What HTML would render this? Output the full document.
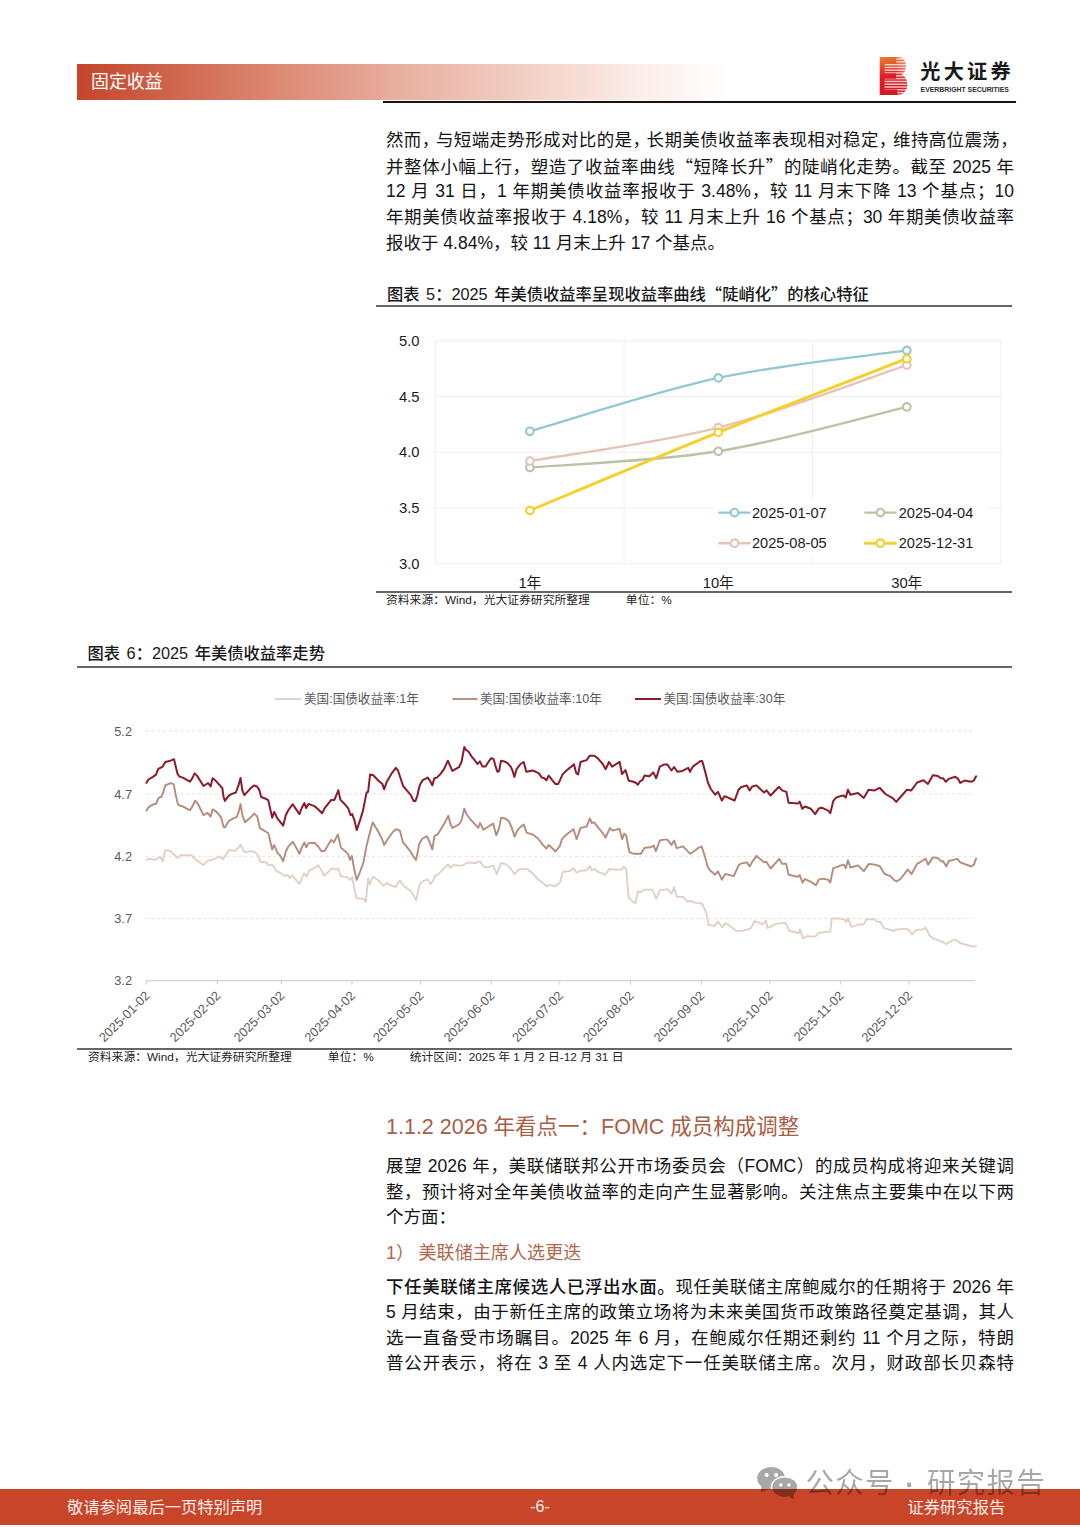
<!DOCTYPE html>
<html lang="zh-CN"><head><meta charset="utf-8"><title>固定收益</title>
<style>
html,body{margin:0;padding:0;background:#fff;}
body{width:1080px;height:1527px;position:relative;overflow:hidden;font-family:"Liberation Sans","Noto Sans CJK SC",sans-serif;color:#111;}
.a{position:absolute;white-space:nowrap;}
.j{text-align:justify;text-align-last:justify;}
.bd{font-size:17.5px;line-height:26px;height:26px;color:#151515;}
.h{letter-spacing:-3.7px;}
b{font-weight:500;}
.ct{font-size:16.3px;font-weight:500;word-spacing:2px;line-height:22px;height:22px;color:#1a1a1a;}
.q{font-family:"Noto Sans CJK SC",sans-serif;}
.src{font-size:11.8px;line-height:16px;height:16px;color:#222;}
.rule{position:absolute;background:#666;height:1.6px;}
svg{position:absolute;left:0;top:0;overflow:visible;}
svg text{font-family:"Liberation Sans","Noto Sans CJK SC",sans-serif;}

</style></head><body>
<div class="a" style="left:77px;top:63.5px;width:650px;height:36.5px;background:linear-gradient(90deg,#c4452b 0%,#db8772 30%,#e8b0a1 50%,#f3d3c9 71%,#fbeeea 87%,#ffffff 100%);"></div>
<div class="a" style="left:91px;top:68.6px;font-size:17.9px;line-height:26px;color:#fff;">固定收益</div>
<div class="rule" style="left:383px;top:101.3px;width:633px;height:1.4px;background:#1c1010;"></div>
<div class="a" style="left:920.3px;top:56.6px;font-size:20.2px;line-height:30px;font-weight:700;color:#1a1a1a;letter-spacing:3.2px;">光大证券</div>
<div class="a bd j" style="left:386px;top:126.8px;width:628px;">然而<span class="h">，</span>与短端走势形成对比的是<span class="h">，</span>长期美债收益率表现相对稳定<span class="h">，</span>维持高位震荡<span class="h">，</span></div>
<div class="a bd j" style="left:386px;top:152.6px;width:628px;">并整体小幅上行，塑造了收益率曲线<span class="q">“</span>短降长升<span class="q">”</span>的陡峭化走势。截至 2025 年</div>
<div class="a bd j" style="left:386px;top:178.4px;width:628px;">12 月 31 日，1 年期美债收益率报收于 3.48%，较 11 月末下降 13 个基点；10</div>
<div class="a bd j" style="left:386px;top:204.2px;width:628px;">年期美债收益率报收于 4.18%，较 11 月末上升 16 个基点；30 年期美债收益率</div>
<div class="a bd" style="left:386px;top:230.0px;width:628px;">报收于 4.84%，较 11 月末上升 17 个基点。</div>
<div class="a ct" style="left:387px;top:282px;">图表 5：2025 年美债收益率呈现收益率曲线<span class="q">“</span>陡峭化<span class="q">”</span>的核心特征</div>
<div class="rule" style="left:376px;top:305px;width:635.5px;"></div>
<div class="rule" style="left:376px;top:591.4px;width:635.5px;"></div>
<div class="a src" style="left:386px;top:592px;">资料来源：Wind，光大证券研究所整理<span style="display:inline-block;width:36px;"></span>单位：%</div>
<div class="a ct" style="left:87.5px;top:642px;">图表 6：2025 年美债收益率走势</div>
<div class="rule" style="left:76.5px;top:666px;width:935px;"></div>
<div class="rule" style="left:76.5px;top:1048.4px;width:935px;"></div>
<div class="a src" style="left:88px;top:1049px;">资料来源：Wind，光大证券研究所整理<span style="display:inline-block;width:36px;"></span>单位：%<span style="display:inline-block;width:36px;"></span>统计区间：2025 年 1 月 2 日-12 月 31 日</div>
<div class="a" style="left:386px;top:1112.2px;font-size:21.5px;line-height:30px;color:#a95e45;">1.1.2 2026 年看点一：FOMC 成员构成调整</div>
<div class="a bd j" style="left:386px;top:1153.3px;width:628px;">展望 2026 年，美联储联邦公开市场委员会（FOMC）的成员构成将迎来关键调</div>
<div class="a bd j" style="left:386px;top:1178.8px;width:628px;">整，预计将对全年美债收益率的走向产生显著影响。关注焦点主要集中在以下两</div>
<div class="a bd" style="left:386px;top:1204.2px;width:628px;">个方面：</div>
<div class="a" style="left:386px;top:1239.6px;font-size:18.1px;line-height:26px;color:#b0674d;">1）<span style="display:inline-block;width:4.3px;"></span>美联储主席人选更迭</div>
<div class="a bd j" style="left:386px;top:1273.5px;width:628px;"><b>下任美联储主席候选人已浮出水面。</b>现任美联储主席鲍威尔的任期将于 2026 年</div>
<div class="a bd j" style="left:386px;top:1299.0px;width:628px;">5 月结束，由于新任主席的政策立场将为未来美国货币政策路径奠定基调，其人</div>
<div class="a bd j" style="left:386px;top:1324.5px;width:628px;">选一直备受市场瞩目。2025 年 6 月，在鲍威尔任期还剩约 11 个月之际，特朗</div>
<div class="a bd j" style="left:386px;top:1350.0px;width:628px;">普公开表示，将在 3 至 4 人内选定下一任美联储主席。次月，财政部长贝森特</div>
<div class="a" style="left:0;top:1488.5px;width:1080px;height:36px;background:#c9452a;"></div>
<div class="a" style="left:67px;top:1495px;font-size:16.3px;line-height:24px;color:#fbeee9;">敬请参阅最后一页特别声明</div>
<div class="a" style="left:500px;width:80px;text-align:center;top:1495px;font-size:16px;line-height:24px;color:#fbeee9;">-6-</div>
<div class="a" style="left:907.5px;top:1495px;font-size:16.3px;line-height:24px;color:#fbeee9;">证券研究报告</div>
<svg width="1080" height="1527" viewBox="0 0 1080 1527">
<g id="chart5">
<line x1="435.7" y1="340.7" x2="1001.0" y2="340.7" stroke="#efefef" stroke-width="1"/>
<line x1="435.7" y1="396.4" x2="1001.0" y2="396.4" stroke="#efefef" stroke-width="1"/>
<line x1="435.7" y1="452.2" x2="1001.0" y2="452.2" stroke="#efefef" stroke-width="1"/>
<line x1="435.7" y1="508.0" x2="1001.0" y2="508.0" stroke="#efefef" stroke-width="1"/>
<line x1="435.7" y1="563.7" x2="1001.0" y2="563.7" stroke="#efefef" stroke-width="1"/>
<line x1="435.7" y1="340.7" x2="435.7" y2="563.7" stroke="#efefef" stroke-width="1"/>
<line x1="624.1" y1="340.7" x2="624.1" y2="563.7" stroke="#efefef" stroke-width="1"/>
<line x1="812.6" y1="340.7" x2="812.6" y2="563.7" stroke="#efefef" stroke-width="1"/>
<line x1="1001.0" y1="340.7" x2="1001.0" y2="563.7" stroke="#efefef" stroke-width="1"/>
<text x="419.5" y="345.9" font-size="14.8" fill="#1c1c1c" text-anchor="end">5.0</text>
<text x="419.5" y="401.6" font-size="14.8" fill="#1c1c1c" text-anchor="end">4.5</text>
<text x="419.5" y="457.4" font-size="14.8" fill="#1c1c1c" text-anchor="end">4.0</text>
<text x="419.5" y="513.2" font-size="14.8" fill="#1c1c1c" text-anchor="end">3.5</text>
<text x="419.5" y="568.9" font-size="14.8" fill="#1c1c1c" text-anchor="end">3.0</text>
<text x="529.9" y="587.5" font-size="14.8" fill="#1c1c1c" text-anchor="middle">1年</text>
<text x="718.3" y="587.5" font-size="14.8" fill="#1c1c1c" text-anchor="middle">10年</text>
<text x="906.8" y="587.5" font-size="14.8" fill="#1c1c1c" text-anchor="middle">30年</text>
<path d="M529.9,467.5 C561.3,464.8 655.5,461.4 718.3,451.3 C781.2,441.2 875.4,414.3 906.8,406.9" fill="none" stroke="#b9c3a6" stroke-width="2.4" stroke-linecap="round"/>
<circle cx="529.9" cy="467.5" r="3.8" fill="#fff" stroke="#b9c3a6" stroke-width="2.1"/>
<circle cx="718.3" cy="451.3" r="3.8" fill="#fff" stroke="#b9c3a6" stroke-width="2.1"/>
<circle cx="906.8" cy="406.9" r="3.8" fill="#fff" stroke="#b9c3a6" stroke-width="2.1"/>
<path d="M529.9,461.0 C561.3,455.5 655.5,443.7 718.3,427.7 C781.2,411.7 875.4,375.5 906.8,365.1" fill="none" stroke="#e6c3ba" stroke-width="2.4" stroke-linecap="round"/>
<circle cx="529.9" cy="461.0" r="3.8" fill="#fff" stroke="#e6c3ba" stroke-width="2.1"/>
<circle cx="718.3" cy="427.7" r="3.8" fill="#fff" stroke="#e6c3ba" stroke-width="2.1"/>
<circle cx="906.8" cy="365.1" r="3.8" fill="#fff" stroke="#e6c3ba" stroke-width="2.1"/>
<path d="M529.9,431.3 C561.3,422.4 655.5,391.4 718.3,377.9 C781.2,364.4 875.4,355.0 906.8,350.4" fill="none" stroke="#93c7d4" stroke-width="2.4" stroke-linecap="round"/>
<circle cx="529.9" cy="431.3" r="3.8" fill="#fff" stroke="#93c7d4" stroke-width="2.1"/>
<circle cx="718.3" cy="377.9" r="3.8" fill="#fff" stroke="#93c7d4" stroke-width="2.1"/>
<circle cx="906.8" cy="350.4" r="3.8" fill="#fff" stroke="#93c7d4" stroke-width="2.1"/>
<path d="M529.9,510.5 C561.3,497.5 655.5,457.7 718.3,432.4 C781.2,407.0 875.4,370.9 906.8,358.7" fill="none" stroke="#f3d02a" stroke-width="2.9" stroke-linecap="round"/>
<circle cx="529.9" cy="510.5" r="3.8" fill="#fff" stroke="#f3d02a" stroke-width="2.1"/>
<circle cx="718.3" cy="432.4" r="3.8" fill="#fff" stroke="#f3d02a" stroke-width="2.1"/>
<circle cx="906.8" cy="358.7" r="3.8" fill="#fff" stroke="#f3d02a" stroke-width="2.1"/>
<rect x="714" y="499" width="272" height="58" fill="#fff"/>
<line x1="719.5" y1="512.6" x2="749.5" y2="512.6" stroke="#93c7d4" stroke-width="2.4" stroke-linecap="round"/>
<circle cx="734.5" cy="512.6" r="3.8" fill="#fff" stroke="#93c7d4" stroke-width="2.1"/>
<text x="752.0" y="517.7" font-size="14.6" fill="#1c1c1c">2025-01-07</text>
<line x1="865.4" y1="512.6" x2="895.4" y2="512.6" stroke="#b9c3a6" stroke-width="2.4" stroke-linecap="round"/>
<circle cx="880.4" cy="512.6" r="3.8" fill="#fff" stroke="#b9c3a6" stroke-width="2.1"/>
<text x="898.7" y="517.7" font-size="14.6" fill="#1c1c1c">2025-04-04</text>
<line x1="719.5" y1="543.2" x2="749.5" y2="543.2" stroke="#e6c3ba" stroke-width="2.4" stroke-linecap="round"/>
<circle cx="734.5" cy="543.2" r="3.8" fill="#fff" stroke="#e6c3ba" stroke-width="2.1"/>
<text x="752.0" y="548.3" font-size="14.6" fill="#1c1c1c">2025-08-05</text>
<line x1="865.4" y1="543.2" x2="895.4" y2="543.2" stroke="#f3d02a" stroke-width="2.9" stroke-linecap="round"/>
<circle cx="880.4" cy="543.2" r="3.8" fill="#fff" stroke="#f3d02a" stroke-width="2.1"/>
<text x="898.7" y="548.3" font-size="14.6" fill="#1c1c1c">2025-12-31</text>
</g>
<g id="chart6">
<line x1="145.6" y1="731.0" x2="975.2" y2="731.0" stroke="#e0e0e0" stroke-width="0.9" stroke-dasharray="3.2 2.6"/>
<line x1="145.6" y1="794.0" x2="975.2" y2="794.0" stroke="#e0e0e0" stroke-width="0.9" stroke-dasharray="3.2 2.6"/>
<line x1="145.6" y1="856.3" x2="975.2" y2="856.3" stroke="#e0e0e0" stroke-width="0.9" stroke-dasharray="3.2 2.6"/>
<line x1="145.6" y1="918.6" x2="975.2" y2="918.6" stroke="#e0e0e0" stroke-width="0.9" stroke-dasharray="3.2 2.6"/>
<line x1="145.6" y1="980.6" x2="975.2" y2="980.6" stroke="#d4d4d4" stroke-width="1.2"/>
<text x="132" y="735.5" font-size="12.8" fill="#5a5a5a" text-anchor="end">5.2</text>
<text x="132" y="798.5" font-size="12.8" fill="#5a5a5a" text-anchor="end">4.7</text>
<text x="132" y="860.8" font-size="12.8" fill="#5a5a5a" text-anchor="end">4.2</text>
<text x="132" y="923.1" font-size="12.8" fill="#5a5a5a" text-anchor="end">3.7</text>
<text x="132" y="985.1" font-size="12.8" fill="#5a5a5a" text-anchor="end">3.2</text>
<line x1="146.6" y1="980.6" x2="146.6" y2="984.6" stroke="#d4d4d4" stroke-width="1.1"/>
<text transform="translate(150.6,996.5) rotate(-45)" font-size="12.8" fill="#5a5a5a" text-anchor="end">2025-01-02</text>
<line x1="217.4" y1="980.6" x2="217.4" y2="984.6" stroke="#d4d4d4" stroke-width="1.1"/>
<text transform="translate(221.4,996.5) rotate(-45)" font-size="12.8" fill="#5a5a5a" text-anchor="end">2025-02-02</text>
<line x1="281.3" y1="980.6" x2="281.3" y2="984.6" stroke="#d4d4d4" stroke-width="1.1"/>
<text transform="translate(285.3,996.5) rotate(-45)" font-size="12.8" fill="#5a5a5a" text-anchor="end">2025-03-02</text>
<line x1="352.0" y1="980.6" x2="352.0" y2="984.6" stroke="#d4d4d4" stroke-width="1.1"/>
<text transform="translate(356.0,996.5) rotate(-45)" font-size="12.8" fill="#5a5a5a" text-anchor="end">2025-04-02</text>
<line x1="420.5" y1="980.6" x2="420.5" y2="984.6" stroke="#d4d4d4" stroke-width="1.1"/>
<text transform="translate(424.5,996.5) rotate(-45)" font-size="12.8" fill="#5a5a5a" text-anchor="end">2025-05-02</text>
<line x1="491.3" y1="980.6" x2="491.3" y2="984.6" stroke="#d4d4d4" stroke-width="1.1"/>
<text transform="translate(495.3,996.5) rotate(-45)" font-size="12.8" fill="#5a5a5a" text-anchor="end">2025-06-02</text>
<line x1="559.8" y1="980.6" x2="559.8" y2="984.6" stroke="#d4d4d4" stroke-width="1.1"/>
<text transform="translate(563.8,996.5) rotate(-45)" font-size="12.8" fill="#5a5a5a" text-anchor="end">2025-07-02</text>
<line x1="630.5" y1="980.6" x2="630.5" y2="984.6" stroke="#d4d4d4" stroke-width="1.1"/>
<text transform="translate(634.5,996.5) rotate(-45)" font-size="12.8" fill="#5a5a5a" text-anchor="end">2025-08-02</text>
<line x1="701.3" y1="980.6" x2="701.3" y2="984.6" stroke="#d4d4d4" stroke-width="1.1"/>
<text transform="translate(705.3,996.5) rotate(-45)" font-size="12.8" fill="#5a5a5a" text-anchor="end">2025-09-02</text>
<line x1="769.8" y1="980.6" x2="769.8" y2="984.6" stroke="#d4d4d4" stroke-width="1.1"/>
<text transform="translate(773.8,996.5) rotate(-45)" font-size="12.8" fill="#5a5a5a" text-anchor="end">2025-10-02</text>
<line x1="840.5" y1="980.6" x2="840.5" y2="984.6" stroke="#d4d4d4" stroke-width="1.1"/>
<text transform="translate(844.5,996.5) rotate(-45)" font-size="12.8" fill="#5a5a5a" text-anchor="end">2025-11-02</text>
<line x1="909.0" y1="980.6" x2="909.0" y2="984.6" stroke="#d4d4d4" stroke-width="1.1"/>
<text transform="translate(913.0,996.5) rotate(-45)" font-size="12.8" fill="#5a5a5a" text-anchor="end">2025-12-02</text>
<path d="M146.5,859.9 L148.4,858.6 L153.0,859.3 L155.6,859.9 L158.1,858.0 L160.7,857.3 L162.7,861.2 L165.3,850.2 L169.8,850.8 L173.7,854.1 L177.6,858.2 L180.2,855.4 L191.2,855.1 L197.0,860.6 L203.5,865.1 L207.4,861.2 L216.5,858.0 L219.7,856.7 L223.0,859.3 L228.8,850.2 L235.9,850.8 L240.5,844.7 L244.4,852.1 L253.4,851.2 L257.3,854.1 L260.6,861.9 L266.4,862.5 L268.3,865.1 L272.9,865.1 L276.1,870.9 L280.0,872.9 L285.2,876.1 L287.8,874.8 L289.7,878.1 L292.3,875.5 L299.4,883.9 L304.0,873.5 L306.6,876.8 L309.2,870.3 L315.0,867.7 L318.0,865.1 L320.2,868.3 L324.1,875.5 L327.3,872.9 L331.9,868.3 L335.7,869.6 L338.3,868.7 L340.9,876.1 L347.4,877.4 L350.6,880.0 L352.3,876.8 L353.9,886.5 L356.5,898.1 L363.6,898.8 L365.8,902.0 L366.6,894.3 L368.1,878.1 L369.8,884.5 L372.7,876.8 L378.5,880.6 L383.7,885.8 L386.3,883.2 L395.4,887.1 L399.9,880.6 L404.4,886.5 L410.9,891.0 L416.1,900.1 L418.1,891.7 L420.0,883.9 L422.6,881.3 L427.8,879.4 L430.4,883.9 L433.0,881.3 L434.9,876.1 L437.5,874.8 L444.0,868.3 L447.9,864.7 L450.5,867.7 L453.1,865.1 L461.5,865.7 L468.0,862.5 L475.7,863.1 L479.9,861.2 L483.5,866.4 L487.4,867.7 L493.2,865.5 L496.7,874.2 L501.0,863.1 L505.6,864.2 L508.8,866.4 L511.4,869.6 L514.6,874.2 L518.5,869.6 L526.9,868.7 L532.8,873.5 L538.0,879.4 L542.5,882.6 L546.8,886.5 L549.6,884.9 L555.5,886.2 L558.1,883.9 L560.0,882.6 L562.6,872.2 L569.7,870.9 L573.6,868.3 L576.2,872.5 L580.7,870.9 L586.6,870.3 L589.8,866.0 L591.8,870.3 L594.0,869.0 L597.6,871.6 L605.4,874.8 L609.3,869.0 L614.4,869.6 L621.6,869.6 L623.8,866.8 L626.1,869.0 L628.7,897.5 L632.6,901.4 L635.6,903.3 L637.8,891.4 L640.4,892.3 L644.3,889.7 L652.7,889.7 L656.2,898.8 L659.8,890.4 L667.3,889.1 L671.7,893.6 L674.1,887.1 L676.7,896.9 L683.1,896.9 L687.7,902.0 L689.6,900.7 L694.8,902.7 L698.7,903.1 L700.0,903.5 L702.2,903.5 L706.0,912.1 L708.6,925.1 L715.1,925.8 L718.0,921.5 L722.3,927.2 L725.2,923.2 L728.8,925.1 L736.0,930.8 L741.8,930.8 L750.4,928.7 L754.7,921.2 L762.7,924.1 L766.0,920.8 L767.7,928.0 L774.9,924.4 L779.9,923.2 L785.7,923.2 L789.3,930.8 L798.7,933.0 L800.1,929.4 L803.0,938.5 L806.6,936.2 L815.2,936.6 L818.8,932.7 L830.3,931.6 L831.8,918.6 L838.3,918.3 L840.0,918.6 L844.3,919.3 L845.8,922.2 L847.9,918.3 L851.5,927.0 L858.7,924.4 L863.8,924.4 L866.6,919.3 L874.6,919.3 L877.4,921.8 L880.3,921.8 L883.9,928.0 L893.3,930.8 L897.6,929.4 L906.3,928.7 L909.1,930.1 L912.0,934.4 L916.3,929.8 L922.8,929.4 L925.7,927.5 L929.3,935.2 L932.2,938.0 L940.8,941.4 L943.7,942.4 L946.6,944.2 L949.5,941.6 L955.2,939.5 L961.0,943.4 L973.2,946.7 L976.1,946.0" fill="none" stroke="#dfcec5" stroke-width="1.8" stroke-linejoin="round" stroke-linecap="round"/>
<path d="M146.5,810.6 L148.4,807.4 L152.3,804.8 L156.2,803.5 L158.8,797.7 L161.4,797.0 L163.3,791.9 L165.3,785.4 L170.5,783.2 L173.7,784.1 L175.6,794.4 L177.9,804.2 L179.5,805.5 L182.8,806.4 L189.9,810.3 L191.9,807.4 L195.1,800.7 L197.7,803.5 L203.5,815.2 L207.4,812.9 L210.6,816.5 L212.6,809.4 L216.5,811.9 L221.0,817.1 L223.6,826.9 L224.9,827.5 L228.8,821.0 L233.3,818.4 L236.6,817.1 L238.5,812.6 L240.5,804.2 L242.4,815.2 L245.0,822.3 L250.2,817.8 L254.1,813.6 L257.3,816.5 L259.9,828.1 L266.4,832.0 L268.3,833.3 L272.2,849.5 L274.2,845.0 L277.4,852.8 L280.0,855.4 L283.2,861.2 L285.8,851.5 L288.4,846.3 L292.7,841.8 L296.2,847.6 L299.4,853.8 L302.0,846.9 L304.4,842.4 L306.2,847.3 L308.5,843.1 L314.4,842.8 L317.6,845.6 L321.5,851.2 L324.7,850.8 L331.2,839.8 L333.8,842.4 L337.9,834.4 L340.9,847.6 L345.5,851.5 L348.1,854.1 L350.0,859.9 L351.9,856.0 L353.9,867.7 L356.7,880.0 L360.4,870.9 L363.6,861.9 L366.2,847.6 L369.4,834.6 L372.7,822.3 L378.5,832.0 L382.4,839.8 L384.1,845.0 L387.6,839.2 L392.8,832.0 L396.0,829.2 L399.9,830.7 L403.1,842.4 L406.4,846.3 L410.9,852.1 L413.5,856.7 L415.9,859.9 L417.4,854.1 L418.7,846.3 L420.0,842.4 L422.6,838.5 L427.1,836.2 L429.7,842.4 L432.3,849.5 L434.5,835.9 L437.5,834.6 L440.7,829.4 L444.6,823.0 L448.3,815.8 L450.5,824.3 L452.4,827.9 L458.9,824.5 L461.5,820.4 L464.3,808.7 L466.7,814.5 L469.9,818.8 L474.4,823.6 L478.3,827.9 L480.0,823.0 L483.5,829.7 L488.7,826.2 L493.2,823.6 L496.2,835.3 L499.1,828.1 L501.0,817.8 L504.9,818.4 L508.8,821.0 L511.4,826.9 L514.6,836.6 L517.2,830.7 L520.9,826.6 L523.7,824.5 L526.6,832.7 L532.8,834.6 L538.0,838.5 L542.5,844.4 L546.4,848.6 L548.7,845.0 L552.2,848.2 L555.5,851.5 L558.1,848.2 L560.0,845.6 L561.9,839.2 L566.5,834.6 L573.6,829.2 L576.6,839.2 L580.5,827.9 L586.6,826.6 L589.8,818.4 L591.8,823.0 L594.0,822.3 L597.6,826.9 L602.8,833.1 L605.6,837.5 L609.9,828.1 L612.5,830.7 L619.4,828.8 L622.2,839.2 L624.2,833.6 L626.1,835.3 L629.4,852.1 L633.9,853.8 L641.0,853.8 L644.3,847.9 L650.7,847.3 L653.6,845.6 L655.9,851.2 L659.8,840.5 L663.7,839.6 L667.3,839.6 L671.5,845.0 L674.1,840.5 L676.7,848.2 L683.1,846.3 L690.3,853.8 L695.5,850.2 L698.7,847.6 L700.0,847.3 L701.7,846.6 L705.0,856.7 L707.9,867.5 L710.8,871.1 L715.1,874.7 L718.0,871.4 L721.9,879.7 L725.2,874.0 L733.8,876.1 L738.6,865.3 L741.0,863.6 L746.8,862.4 L749.7,866.5 L751.9,862.4 L756.5,855.9 L764.1,862.4 L766.3,861.7 L770.6,868.5 L779.2,858.8 L782.1,863.9 L786.1,863.6 L788.6,874.7 L797.9,876.8 L799.7,875.1 L802.6,882.6 L804.9,879.0 L810.9,881.9 L815.9,885.2 L818.8,879.7 L822.4,878.6 L828.2,879.7 L830.3,882.6 L833.2,868.2 L838.3,866.7 L840.0,865.6 L844.0,864.6 L845.8,868.2 L847.9,860.3 L850.4,867.5 L858.0,865.3 L863.8,871.1 L868.8,863.9 L874.6,864.6 L879.6,866.0 L884.7,874.0 L890.4,876.1 L893.6,879.7 L896.5,881.4 L900.5,879.0 L907.7,869.6 L911.6,874.0 L917.1,863.9 L925.7,858.8 L928.1,864.6 L932.9,857.4 L937.9,858.1 L941.5,861.7 L943.0,861.0 L946.3,866.5 L948.7,861.0 L957.4,858.8 L960.3,862.4 L971.1,866.5 L974.0,864.6 L976.1,858.4" fill="none" stroke="#b58b7c" stroke-width="1.9" stroke-linejoin="round" stroke-linecap="round"/>
<path d="M146.5,782.8 L148.4,779.5 L153.0,776.9 L156.2,774.4 L158.1,769.2 L160.7,767.6 L162.7,766.6 L165.3,762.0 L170.5,760.7 L174.0,759.2 L175.6,765.9 L177.6,774.0 L179.5,776.6 L182.8,777.6 L189.9,781.7 L191.9,778.9 L194.7,773.4 L197.0,775.6 L203.5,786.0 L208.1,783.0 L210.6,786.4 L212.6,778.2 L215.8,780.8 L221.0,786.7 L222.3,788.0 L223.6,797.0 L224.9,800.9 L228.1,796.4 L230.7,794.4 L235.9,792.5 L238.5,785.4 L240.5,777.9 L242.4,790.6 L244.4,795.1 L250.2,788.6 L254.1,785.4 L257.3,786.7 L259.3,789.9 L261.2,797.0 L266.4,799.0 L268.3,800.3 L272.2,817.8 L274.2,811.9 L277.4,818.4 L280.0,821.7 L283.2,825.6 L285.8,815.2 L288.4,810.0 L292.7,804.2 L296.2,809.4 L299.4,814.1 L302.0,807.4 L304.4,803.1 L306.2,808.1 L308.5,803.9 L314.4,806.1 L317.6,808.7 L322.1,813.2 L324.7,808.1 L331.2,799.9 L334.4,799.9 L338.3,790.3 L340.3,799.6 L344.8,804.2 L348.4,808.7 L350.6,815.2 L352.2,814.1 L354.5,820.4 L356.7,830.1 L360.4,819.1 L363.0,810.6 L364.9,800.9 L366.6,792.5 L368.1,791.9 L370.1,774.4 L373.3,775.3 L378.5,780.8 L382.4,784.1 L384.1,789.3 L386.9,781.5 L391.5,773.7 L395.8,767.9 L398.0,770.5 L401.2,780.2 L403.1,786.0 L406.4,789.9 L410.9,795.1 L413.5,800.9 L415.5,800.9 L417.4,795.7 L418.7,789.3 L420.0,784.7 L422.6,780.2 L427.8,777.6 L430.4,781.5 L432.3,785.4 L434.3,778.2 L436.9,777.6 L440.7,773.7 L444.0,769.2 L447.9,760.7 L450.5,766.6 L452.4,770.9 L458.9,767.2 L461.5,762.0 L464.3,747.1 L466.0,749.7 L468.6,751.7 L471.9,756.9 L475.1,760.7 L477.4,764.0 L479.9,761.4 L482.5,766.6 L485.5,766.6 L488.7,761.4 L491.3,758.1 L493.6,759.2 L495.8,767.2 L497.5,771.8 L499.1,771.1 L501.0,760.7 L504.3,761.4 L507.5,763.1 L510.7,766.6 L512.7,771.1 L514.4,776.9 L516.6,769.2 L520.5,764.0 L523.7,762.0 L526.3,771.8 L532.8,770.5 L538.6,773.1 L541.9,777.6 L544.4,778.2 L546.4,780.2 L548.7,775.6 L552.2,780.2 L555.5,784.1 L558.1,784.1 L560.0,780.2 L562.6,774.4 L566.5,770.5 L574.0,764.4 L576.2,773.1 L578.1,774.4 L580.5,762.0 L586.6,760.1 L589.6,755.8 L594.4,755.8 L597.6,758.1 L602.8,764.0 L605.6,769.2 L609.0,762.0 L612.1,766.6 L619.6,761.8 L622.0,774.0 L625.5,770.1 L628.7,780.8 L632.6,781.5 L635.8,782.8 L637.8,784.7 L640.1,781.2 L642.3,780.2 L644.5,775.6 L649.4,776.3 L653.3,772.4 L656.2,778.2 L659.8,766.6 L663.7,764.6 L667.3,764.4 L671.5,770.5 L674.1,767.0 L677.3,771.8 L682.5,770.9 L688.3,767.9 L690.0,771.8 L692.9,766.6 L698.1,762.7 L700.0,761.3 L702.2,760.9 L705.0,771.0 L707.9,782.5 L710.8,789.0 L715.1,794.7 L718.0,791.9 L721.9,800.5 L724.5,796.2 L734.6,800.5 L738.6,789.7 L741.0,787.2 L746.8,785.4 L749.7,790.4 L751.9,786.8 L756.5,785.4 L764.1,792.6 L766.5,790.4 L770.6,795.5 L778.9,786.8 L782.1,790.4 L786.4,791.9 L788.6,802.7 L797.9,803.4 L799.7,801.6 L802.3,808.8 L804.9,806.5 L810.9,808.8 L815.2,814.2 L818.8,808.4 L821.7,807.7 L828.2,810.6 L830.3,813.2 L833.2,801.2 L836.1,797.6 L840.0,796.2 L843.6,795.5 L845.8,797.6 L847.9,789.7 L850.4,794.7 L858.0,793.0 L863.8,797.9 L868.5,789.7 L874.6,790.4 L879.6,787.8 L885.4,794.0 L893.0,798.3 L896.2,801.9 L901.9,795.5 L907.0,789.7 L911.3,790.4 L917.1,782.5 L923.5,780.3 L927.9,783.9 L932.9,775.3 L937.9,776.0 L940.8,778.2 L943.0,778.2 L945.9,781.8 L948.7,778.9 L955.2,776.7 L958.1,778.9 L960.3,782.9 L964.6,780.6 L971.1,781.8 L974.0,780.3 L976.1,776.3" fill="none" stroke="#891b2b" stroke-width="2.0" stroke-linejoin="round" stroke-linecap="round"/>
<line x1="275.0" y1="699" x2="301.0" y2="699" stroke="#dfcec5" stroke-width="1.8"/>
<text x="304.0" y="703.4" font-size="12.6" fill="#5a5a5a">美国:国债收益率:1年</text>
<line x1="452.5" y1="699" x2="477.5" y2="699" stroke="#b58b7c" stroke-width="1.9"/>
<text x="480.0" y="703.4" font-size="12.6" fill="#5a5a5a">美国:国债收益率:10年</text>
<line x1="635.0" y1="699" x2="661.0" y2="699" stroke="#891b2b" stroke-width="2.0"/>
<text x="663.5" y="703.4" font-size="12.6" fill="#5a5a5a">美国:国债收益率:30年</text>
</g>
<g id="logo">
<defs>
<linearGradient id="lg" gradientUnits="userSpaceOnUse" x1="880" y1="57" x2="888" y2="95"><stop offset="0" stop-color="#e9802f"/><stop offset="0.17" stop-color="#e5632c"/><stop offset="0.36" stop-color="#e2392a"/><stop offset="0.52" stop-color="#dd2027"/><stop offset="1" stop-color="#d01a22"/></linearGradient>
<linearGradient id="lg2" x1="0" y1="0" x2="1" y2="0"><stop offset="0" stop-color="#fff" stop-opacity="0"/><stop offset="0.55" stop-color="#fff" stop-opacity="0"/><stop offset="1" stop-color="#ffd9a0" stop-opacity="0.45"/></linearGradient>
<clipPath id="bclip"><path d="M879.7,57 H897.5 C903,57 905.9,60.6 905.9,65.6 C905.9,70 904.2,73.2 901.6,75 C905.2,76.4 907.3,79.8 907.3,84.2 C907.3,90.6 903.2,95 897,95 H879.7 Z"/></clipPath>
<clipPath id="sclip"><path d="M896.3,56 H910 V64.2 H884.6 V63.4 H896.3 Z M884.6,63.4 H910 V73.2 H884.6 Z M896,73.2 H910 V78.8 H896 Z M884.6,78.8 H910 V89.4 H884.6 Z M897.2,89.4 H910 V96 H897.2 Z"/></clipPath>
</defs>
<g clip-path="url(#bclip)">
<rect x="879" y="56" width="30" height="40" fill="url(#lg)"/>
<rect x="879" y="56" width="30" height="18" fill="url(#lg2)"/>
<g clip-path="url(#sclip)" fill="#fff" fill-opacity="0.74">
<rect x="884" y="58.30" width="26" height="1.45"/>
<rect x="884" y="61.10" width="26" height="1.45"/>
<rect x="884" y="63.90" width="26" height="1.45"/>
<rect x="884" y="66.70" width="26" height="1.45"/>
<rect x="884" y="69.50" width="26" height="1.45"/>
<rect x="884" y="72.30" width="26" height="1.45"/>
<rect x="884" y="75.10" width="26" height="1.45"/>
<rect x="884" y="77.90" width="26" height="1.45"/>
<rect x="884" y="80.70" width="26" height="1.45"/>
<rect x="884" y="83.50" width="26" height="1.45"/>
<rect x="884" y="86.30" width="26" height="1.45"/>
<rect x="884" y="89.10" width="26" height="1.45"/>
<rect x="884" y="91.90" width="26" height="1.45"/>
<rect x="884" y="94.70" width="26" height="1.45"/>
</g></g>
<text x="920.6" y="92.3" font-size="7.4" font-weight="700" fill="#2a2a2a" textLength="88.2" lengthAdjust="spacingAndGlyphs">EVERBRIGHT SECURITIES</text>
</g>
<g id="wm">
<defs>
<mask id="m1" maskUnits="userSpaceOnUse" x="750" y="1455" width="60" height="55"><rect x="750" y="1455" width="60" height="55" fill="#fff"/><ellipse cx="784.7" cy="1487.2" rx="14" ry="11.2" fill="#000"/><circle cx="766.7" cy="1474.9" r="2" fill="#000"/><circle cx="776.1" cy="1474.9" r="2" fill="#000"/></mask>
<mask id="m2" maskUnits="userSpaceOnUse" x="750" y="1455" width="60" height="55"><rect x="750" y="1455" width="60" height="55" fill="#fff"/><circle cx="780.8" cy="1484.9" r="1.7" fill="#000"/><circle cx="788.9" cy="1484.9" r="1.7" fill="#000"/></mask>
</defs>
<g opacity="0.34" fill="#000">
<g mask="url(#m1)"><ellipse cx="771.1" cy="1478.3" rx="13.9" ry="11.4"/><path d="M761.6,1485.5 L760.8,1492.6 L768.6,1489 Z"/></g>
<g mask="url(#m2)"><ellipse cx="784.7" cy="1487.2" rx="12.5" ry="9.7"/><path d="M788.2,1495.8 L793.4,1499.6 L793.8,1493 Z"/></g>
<text y="1492.9" font-size="28.4" font-weight="400" letter-spacing="1.4"><tspan x="805.4">公众号</tspan><tspan x="902.5" font-size="40" dy="3.4">·</tspan><tspan dy="-3.4" font-size="1"> </tspan><tspan x="926.9">研究报告</tspan></text>
</g>
</g>
</svg>
</body></html>
